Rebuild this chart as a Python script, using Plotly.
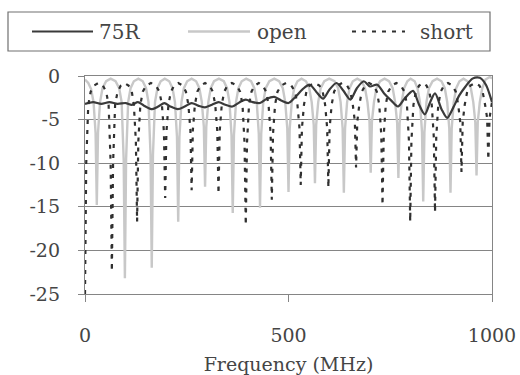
import plotly.graph_objects as go

# Return loss (dB) versus frequency (MHz) for three cable terminations
freq_75r = [0, 20, 40, 60, 80, 100, 115, 130, 145, 165, 180, 195, 210, 228, 245, 262,
            278, 295, 312, 328, 345, 362, 380, 395, 412, 430, 447, 465, 482, 500, 517,
            535, 552, 568, 585, 600, 618, 635, 652, 668, 685, 700, 718, 735, 752, 769,
            785, 806, 820, 835, 848, 860, 876, 890, 905, 920, 935, 952, 970, 985, 1000]
loss_75r = [-3.2, -3.0, -3.2, -3.0, -3.2, -3.1, -3.3, -3.0, -3.4, -3.8, -3.5, -3.1, -3.5,
            -3.8, -3.5, -3.1, -3.4, -3.6, -3.3, -3.0, -3.3, -3.5, -3.0, -2.7, -3.0, -3.1,
            -2.6, -2.4, -2.8, -3.1, -2.4, -1.5, -1.0, -1.8, -2.6, -1.6, -0.8, -1.7, -2.7,
            -1.4, -0.6, -1.2, -1.0, -2.0, -2.8, -3.5, -2.6, -1.7, -3.2, -4.4, -3.0, -2.0,
            -3.8, -4.8, -3.6, -2.2, -1.2, -0.3, -0.2, -1.0, -3.0]

freq_open = [0, 8, 15, 21, 26, 29, 32, 37, 43, 52, 63, 75, 84, 90, 95, 98, 101, 106, 112,
             120, 131, 142, 150, 156, 161, 164, 167, 172, 178, 186, 196, 207, 215, 221,
             226, 229, 232, 237, 243, 251, 262, 273, 281, 287, 292, 295, 298, 303, 309,
             317, 329, 341, 349, 355, 360, 363, 366, 371, 377, 385, 396, 408, 416, 422,
             427, 430, 433, 438, 444, 453, 465, 477, 486, 492, 497, 500, 503, 508, 514,
             522, 532, 543, 551, 557, 562, 565, 568, 573, 579, 588, 600, 613, 622, 628,
             633, 636, 639, 644, 650, 658, 669, 680, 688, 694, 699, 702, 705, 710, 716,
             725, 736, 747, 756, 762, 767, 770, 773, 778, 784, 792, 800, 810, 817, 823,
             828, 831, 834, 839, 845, 854, 865, 876, 884, 890, 895, 898, 901, 906, 912,
             920, 930, 940, 948, 954, 959, 962, 965, 970, 976, 984, 995, 1000]
loss_open = [-0.4, -0.8, -1.5, -3.0, -6.5, -14.8, -6.5, -3.0, -1.4, -0.6, -0.3, -0.6, -1.4,
             -3.0, -9.5, -23.2, -9.5, -3.0, -1.4, -0.6, -0.3, -0.6, -1.4, -3.0, -9.0, -22.0,
             -9.0, -3.0, -1.4, -0.6, -0.3, -0.6, -1.4, -3.0, -7.0, -16.7, -7.0, -3.0, -1.4,
             -0.6, -0.3, -0.6, -1.4, -3.0, -5.8, -12.7, -5.8, -3.0, -1.4, -0.6, -0.3, -0.6,
             -1.4, -3.0, -6.8, -15.7, -6.8, -3.0, -1.4, -0.6, -0.3, -0.6, -1.4, -3.0, -6.6,
             -15.1, -6.6, -3.0, -1.4, -0.6, -0.3, -0.6, -1.4, -3.0, -6.0, -13.3, -6.0, -3.0,
             -1.4, -0.6, -0.3, -0.6, -1.4, -3.0, -5.6, -12.3, -5.6, -3.0, -1.4, -0.6, -0.3,
             -0.6, -1.4, -3.0, -6.0, -13.4, -6.0, -3.0, -1.4, -0.6, -0.3, -0.6, -1.4, -3.0,
             -5.2, -11.1, -5.2, -3.0, -1.4, -0.6, -0.3, -0.6, -1.4, -3.0, -5.4, -11.7, -5.4,
             -3.0, -1.4, -0.6, -0.3, -0.6, -1.4, -3.0, -6.4, -14.4, -6.4, -3.0, -1.4, -0.6,
             -0.3, -0.6, -1.4, -3.0, -6.0, -13.4, -6.0, -3.0, -1.4, -0.6, -0.3, -0.6, -1.4,
             -3.0, -5.3, -11.4, -5.3, -3.0, -1.4, -0.4, -0.1, -0.3]

freq_short = [0, 3, 8, 14, 22, 33, 44, 52, 58, 63, 66, 69, 74, 80, 88, 97, 107, 115, 120,
              125, 128, 131, 136, 142, 150, 162, 174, 183, 189, 194, 197, 200, 205, 211,
              219, 229, 240, 248, 254, 259, 262, 265, 270, 276, 284, 295, 306, 314, 320,
              325, 328, 331, 336, 342, 350, 361, 373, 381, 387, 392, 395, 398, 403, 409,
              417, 427, 437, 445, 451, 456, 459, 462, 467, 473, 482, 494, 507, 516, 522,
              527, 530, 533, 538, 544, 552, 564, 576, 584, 590, 595, 598, 601, 606, 612,
              620, 632, 644, 652, 658, 663, 666, 669, 674, 680, 688, 698, 709, 717, 723,
              728, 731, 734, 739, 745, 754, 765, 776, 785, 791, 796, 799, 802, 807, 813,
              821, 830, 839, 846, 852, 857, 860, 863, 868, 874, 882, 892, 903, 911, 917,
              922, 925, 928, 933, 939, 947, 958, 969, 977, 983, 988, 991, 994, 1000]
loss_short = [-25.0, -10.0, -3.3, -1.8, -1.1, -0.8, -1.1, -1.8, -3.3, -10.0, -22.4, -10.0,
              -3.3, -1.8, -1.1, -0.8, -1.1, -1.8, -3.3, -7.5, -16.7, -7.5, -3.3, -1.8, -1.1,
              -0.8, -1.1, -1.8, -3.3, -6.5, -14.0, -6.5, -3.3, -1.8, -1.1, -0.8, -1.1, -1.8,
              -3.3, -6.2, -13.1, -6.2, -3.3, -1.8, -1.1, -0.8, -1.1, -1.8, -3.3, -6.3, -13.5,
              -6.3, -3.3, -1.8, -1.1, -0.8, -1.1, -1.8, -3.3, -7.7, -17.1, -7.7, -3.3, -1.8,
              -1.1, -0.8, -1.1, -1.8, -3.3, -6.6, -14.2, -6.6, -3.3, -1.8, -1.1, -0.8, -1.1,
              -1.8, -3.3, -6.0, -12.5, -6.0, -3.3, -1.8, -1.1, -0.8, -1.1, -1.8, -3.3, -6.0,
              -12.8, -6.0, -3.3, -1.8, -1.1, -0.8, -1.1, -1.8, -3.3, -5.2, -10.5, -5.2, -3.3,
              -1.8, -1.1, -0.8, -1.1, -1.8, -3.3, -6.8, -14.8, -6.8, -3.3, -1.8, -1.1, -0.8,
              -1.1, -1.8, -3.3, -7.5, -16.7, -7.5, -3.3, -1.8, -1.1, -0.8, -1.1, -1.8, -3.3,
              -7.0, -15.6, -7.0, -3.3, -1.8, -1.1, -0.8, -1.1, -1.8, -3.3, -5.3, -11.0, -5.3,
              -3.3, -1.8, -1.1, -0.8, -1.1, -1.8, -3.3, -4.8, -9.6, -4.8, -3.0]

x_ticks = [0, 500, 1000]
y_ticks = [0, -5, -10, -15, -20, -25]
y_tick_text = ["0", "-5", "-10", "-15", "-20", "-25"]
series_names = ["75R", "open", "short"]

FONT = "DejaVu Serif"
TEXT = "#454545"
AXIS = "#858585"
C_75R = "#3a3a3a"
C_OPEN = "#c8c8c8"
C_SHORT = "#303030"
SHORT_DASH = "4px,6px"

fig = go.Figure()
fig.add_trace(go.Scatter(x=freq_open, y=loss_open, mode="lines", name=series_names[1],
                         line=dict(color=C_OPEN, width=2.4)))
fig.add_trace(go.Scatter(x=freq_75r, y=loss_75r, mode="lines", name=series_names[0],
                         line=dict(color=C_75R, width=2.2, shape="spline", smoothing=0.8)))
fig.add_trace(go.Scatter(x=freq_short, y=loss_short, mode="lines", name=series_names[2],
                         line=dict(color=C_SHORT, width=2.2, dash=SHORT_DASH)))

# Plot-area geometry in pixels, used to place the framed key above the axes
L, R, T, B = 85, 492, 76, 294
def px(x):
    return (x - L) / (R - L)
def py(y):
    return (B - y) / (B - T)

shapes = [dict(type="rect", xref="paper", yref="paper", x0=px(8), x1=px(490),
               y0=py(51), y1=py(12), line=dict(color="#707070", width=1.2))]
key = [(series_names[0], C_75R, "solid", 2.2, 32, 93, 97),
       (series_names[1], C_OPEN, "solid", 2.4, 188, 250, 255),
       (series_names[2], C_SHORT, SHORT_DASH, 2.2, 352, 405, 418)]
annotations = []
for name, col, dash, w, x0, x1, xt in key:
    shapes.append(dict(type="line", xref="paper", yref="paper", x0=px(x0), x1=px(x1),
                       y0=py(31.5), y1=py(31.5), line=dict(color=col, width=w, dash=dash)))
    annotations.append(dict(text=name, xref="paper", yref="paper", x=px(xt), y=py(32),
                            xanchor="left", yanchor="middle", showarrow=False,
                            font=dict(family=FONT, size=20, color=TEXT)))

fig.update_layout(
    width=520, height=375,
    margin=dict(l=L, r=520 - R, t=T, b=375 - B),
    paper_bgcolor="white", plot_bgcolor="white",
    showlegend=False,
    shapes=shapes, annotations=annotations,
    font=dict(family=FONT, size=19, color=TEXT),
    xaxis=dict(range=[0, 1000], tickvals=x_ticks, showgrid=False, zeroline=False,
               automargin=False,
               showline=True, mirror=True, linecolor=AXIS, linewidth=1.4,
               ticks="outside", ticklen=7, tickcolor=AXIS, tickwidth=1.4,
               ticklabelstandoff=17, tickfont=dict(family=FONT, size=19, color=TEXT),
               title=dict(text="Frequency (MHz)", standoff=17,
                          font=dict(family=FONT, size=19, color=TEXT))),
    yaxis=dict(range=[-25, 0], tickvals=y_ticks, ticktext=y_tick_text,
               automargin=False,
               showgrid=True, gridcolor=AXIS, gridwidth=1.4, zeroline=False,
               showline=True, mirror=True, linecolor=AXIS, linewidth=1.4,
               ticks="outside", ticklen=6, tickcolor=AXIS, tickwidth=1.4,
               ticklabelstandoff=14, tickfont=dict(family=FONT, size=19, color=TEXT)),
)

fig.write_html("out.html")
